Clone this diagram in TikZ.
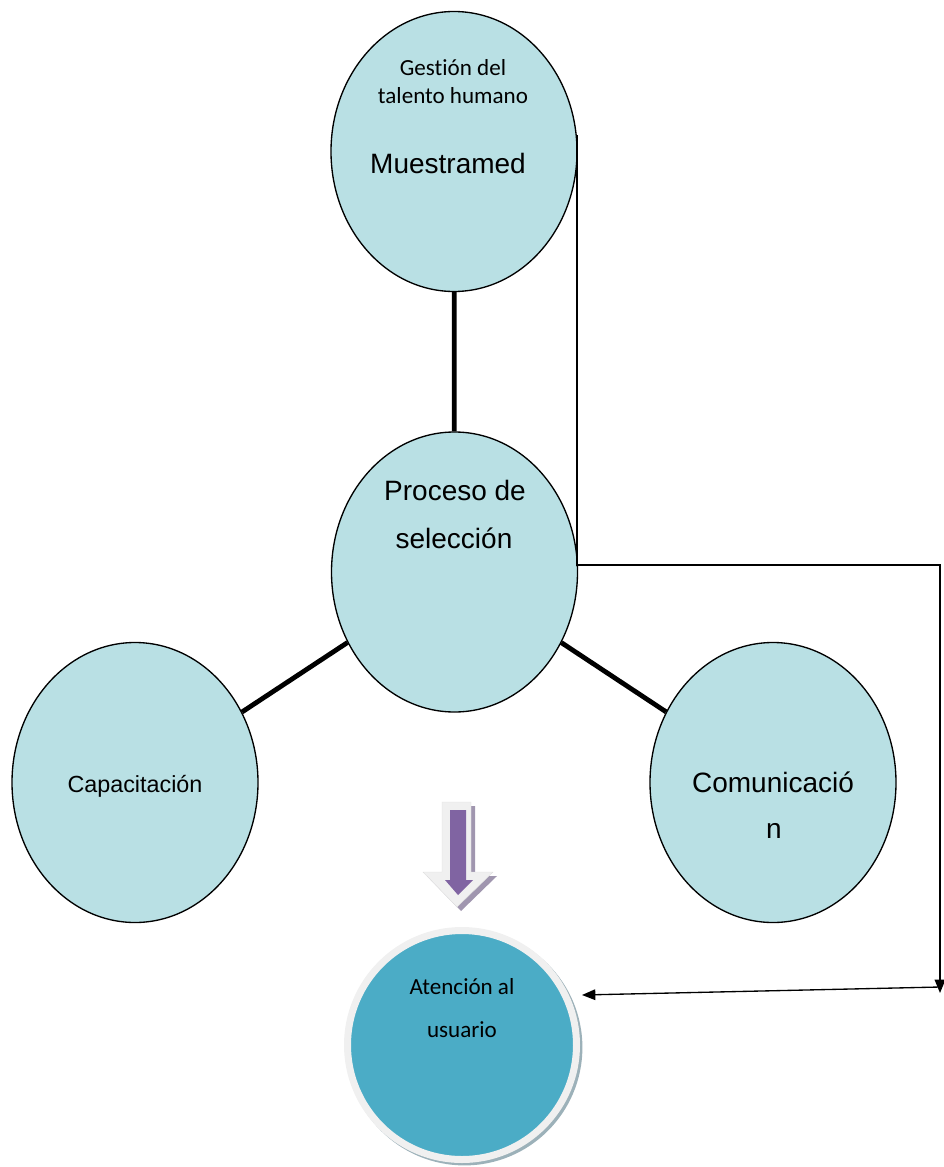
\documentclass[tikz,border=0pt]{standalone}
\usepackage{fontspec}
\setmainfont{Liberation Sans}
\newfontfamily\calibri[Ligatures=NoCommon]{Carlito}
\usepackage{xcolor}
\usetikzlibrary{arrows.meta, positioning, shapes.geometric, shadows}
\definecolor{bubblefill}{RGB}{185,224,228}
\definecolor{tealfill}{RGB}{75,172,198}
\definecolor{tealshade}{RGB}{90,125,138}
\definecolor{ringgray}{RGB}{240,240,240}
\definecolor{arrowpurple}{RGB}{128,100,162}
\definecolor{arrowshade}{RGB}{160,150,175}

\begin{document}
\begin{tikzpicture}[
    x=0.75pt, y=-0.75pt,
    >={Triangle[length=10pt, width=8pt]},
    bubble/.style={draw, ellipse, line width=1pt, fill=bubblefill, minimum width=184.5pt, minimum height=210pt, inner sep=0pt},
    target/.style={circle, draw=ringgray, line width=5.25pt, fill=tealfill, minimum size=171.75pt, inner sep=0pt,
        drop shadow={shadow xshift=1.8pt, shadow yshift=-1.8pt, shadow scale=1.03, fill=tealshade, opacity=0.6}},
    spoke/.style={line width=3.6pt},
    link/.style={line width=1pt},
    big/.style={font=\fontsize{21}{25}\selectfont, anchor=base},
    mid/.style={font=\fontsize{17.5}{20}\selectfont, anchor=base},
    small/.style={font=\calibri\fontsize{17.3}{20}\selectfont, anchor=base}
]
    \useasboundingbox (0,0) rectangle (944,1167);

    % --- Bubbles ---
    \node[bubble] (Talento) at (454,151.5) {};
    \node[bubble] (Seleccion) at (454.5,572) {};
    \node[bubble] (Capacitacion) at (135,782.5) {};
    \node[bubble] (Comunicacion) at (773,782.5) {};

    % --- Spokes ---
    \draw[spoke] (Talento) -- (Seleccion);
    \draw[spoke] (Seleccion) -- (Capacitacion);
    \draw[spoke] (Seleccion) -- (Comunicacion);

    % --- Labels ---
    \node[small] (TalentoA) at (453,75) {Gestión del};
    \node[small] (TalentoB) at (453,103) {talento humano};
    \node[big] (TalentoC) at (448,173) {Muestramed};
    \node[big] (SeleccionA) at (455,500) {Proceso de};
    \node[big] (SeleccionB) at (454,548) {selección};
    \node[mid] (CapacitacionA) at (135,792) {Capacitación};
    \node[big] (ComunicacionA) at (773,792) {Comunicació};
    \node[big] (ComunicacionB) at (774,838) {n};

    % --- Down arrow ---
    \fill[arrowshade, shift={(4,4)}] (442,802) -- (471,802) -- (471,872) -- (493,872) -- (457,907) -- (423,872) -- (442,872) -- cycle;
    \filldraw[fill=ringgray, draw=gray!25, line width=0.3pt] (442,802) -- (471,802) -- (471,872) -- (493,872) -- (457,907) -- (423,872) -- (442,872) -- cycle;
    \fill[arrowpurple] (450,810) -- (466,810) -- (466,880) -- (473,880) -- (458,895) -- (445,880) -- (450,880) -- cycle;

    % --- Target ---
    \node[target] (Usuario) at (462,1045) {};
    \node[small] (UsuarioA) at (462,994) {Atención al};
    \node[small] (UsuarioB) at (462,1037) {usuario};

    % --- Side route ---
    \coordinate (RouteTop) at (577,135);
    \coordinate (RouteCorner) at (940,565);
    \coordinate (RouteEnd) at (940,993);
    \coordinate (RouteTurn) at (940,987);
    \coordinate (RouteTip) at (582,995);
    \draw[link, ->] (RouteTop) |- (RouteCorner) -- (RouteEnd);
    \draw[link, ->] (RouteTurn) -- (RouteTip);

\end{tikzpicture}
\end{document}
